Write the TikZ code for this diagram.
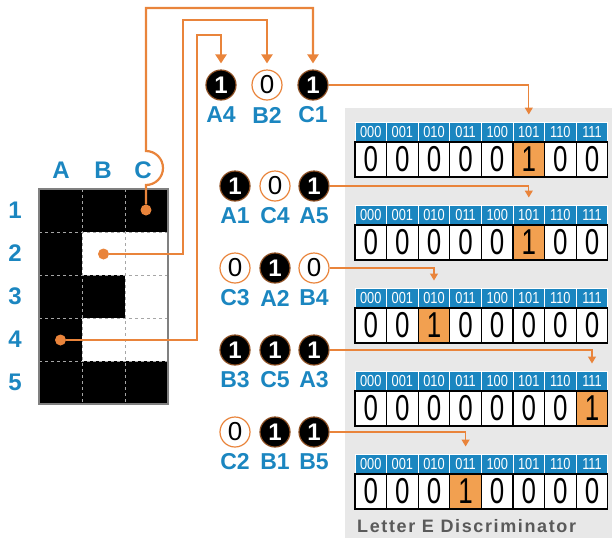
\documentclass[tikz,border=0pt]{standalone}
\usepackage{fontspec}
\usepackage{graphicx}
\setmainfont{Liberation Sans}
\newfontfamily\titlefont[LetterSpace=9]{Liberation Sans}
\usetikzlibrary{arrows.meta}

\definecolor{eblue}{HTML}{1B86C0}
\definecolor{eorange}{HTML}{E9843B}
\definecolor{ecell}{HTML}{F2A050}
\definecolor{epanel}{HTML}{E8E8E8}
\definecolor{etext}{HTML}{5A5A5A}

\newcommand{\narrowdigits}[2]{\scalebox{#1}[1]{#2}}

\begin{document}
\begin{tikzpicture}
  [x=1pt,y=-1pt,
   bit1/.style={circle,fill=black,draw=eorange!60!black,line width=1.2pt,minimum size=30pt,inner sep=0pt,
     text=white,font=\fontsize{24}{24}\selectfont\bfseries},
   bit0/.style={circle,fill=white,draw=eorange,line width=1.2pt,minimum size=30pt,inner sep=0pt,
     font=\fontsize{26}{26}\selectfont},
   lbl/.style={text=eblue,font=\fontsize{23}{23}\selectfont\bfseries,inner sep=0pt},
   axis/.style={text=eblue,font=\fontsize{24}{24}\selectfont\bfseries,inner sep=0pt},
   hdr/.style={fill=eblue,draw=white,line width=1pt,minimum width=31.6pt,minimum height=20pt,inner sep=0pt,
     text=white,font=\fontsize{16}{16}\selectfont},
   val/.style={fill=white,draw=black,line width=1.2pt,minimum width=31.6pt,minimum height=35pt,inner sep=0pt,
     font=\fontsize{36}{36}\selectfont},
   pix/.style={circle,fill=eorange,minimum size=11pt,inner sep=0pt},
   gridline/.style={gray!70,dashed,line width=0.9pt},
   wire/.style={eorange,line width=2.2pt,-{Triangle[width=11pt,length=9pt]},shorten >=6pt},
   feed/.style={eorange,line width=1.2pt,-{Triangle[width=8pt,length=7pt]}}]
  \useasboundingbox (0,0) rectangle (614,542);

  % discriminator panel
  \fill[epanel] (345,108) rectangle (612,538);

  % letter E on the retina
  \fill[white] (39,189) rectangle (168,404);
  \foreach \x/\y in {0/0,1/0,2/0,0/1,0/2,1/2,0/3,0/4,1/4,2/4}
    \fill (39+43*\x,189+43*\y) rectangle ++(43,43);
  \foreach \i in {1,2}
    \draw[gridline] (39+43*\i,189) -- ++(0,215);
  \foreach \j in {1,...,4}
    \draw[gridline] (39,189+43*\j) -- ++(129,0);
  \draw[gray,line width=1.2pt] (39,189) rectangle (168,404);

  \node[axis] (colA) at (61,170) {A};
  \node[axis] (colB) at (103,170) {B};
  \node[axis] (colC) at (143,170) {C};
  \foreach \r in {1,...,5}
    \node[axis] (row\r) at (15,167.5+43*\r) {\r};

  \node[pix] (dC1) at (146,210) {};
  \node[pix] (dB2) at (103.5,254) {};
  \node[pix] (dA4) at (60.5,340) {};

  % sampled bits
  \foreach \n/\d/\x/\y in {A4/1/221/85,B2/0/267/85,C1/1/313/85,
                           A1/1/235/186,C4/0/275/186,A5/1/314/186,
                           C3/0/235/268,A2/1/275/268,B4/0/314/268,
                           B3/1/235/350,C5/1/275/350,A3/1/314/350,
                           C2/0/235/432,B1/1/275/432,B5/1/314/432} {
    \node[bit\d] (\n) at (\x,\y) {\d};
    \node[lbl] (l\n) at (\x,\y+30) {\n};
  }

  \draw[wire] (dC1) -- (146,185) arc[start angle=-90,end angle=90,radius=17pt] -- (146,8) -| (C1);
  \draw[wire] (dB2) -| (183,20) -| (B2);
  \draw[wire] (dA4) -| (197,35) -| (A4);

  % lookup tables
  \foreach \t/\y/\hot in {1/122/5,2/205/5,3/288/2,4/371/7,5/454/3} {
    \foreach \c/\code in {0/000,1/001,2/010,3/011,4/100,5/101,6/110,7/111} {
      \node[hdr] (h\t\c) at (370.8+31.6*\c,\y+10) {\narrowdigits{0.8}{\code}};
      \ifnum\c=\hot
        \node[val,fill=ecell] (v\t\c) at (370.8+31.6*\c,\y+37.5) {\narrowdigits{0.72}{1}};
      \else
        \node[val] (v\t\c) at (370.8+31.6*\c,\y+37.5) {\narrowdigits{0.72}{0}};
      \fi
    }
  }

  \draw[feed] (C1) -| ([yshift=7pt]h15.north);
  \draw[feed] (A5) -| ([yshift=7pt]h25.north);
  \draw[feed] (B4) -| ([yshift=7pt]h32.north);
  \draw[feed] (A3) -| ([yshift=7pt]h47.north);
  \draw[feed] (B5) -| ([yshift=7pt]h53.north);

  \node[anchor=west,text=etext,inner sep=0pt,font=\titlefont\fontsize{18}{18}\selectfont\bfseries]
    (title) at (357,526) {Letter E Discriminator};
\end{tikzpicture}
\end{document}
